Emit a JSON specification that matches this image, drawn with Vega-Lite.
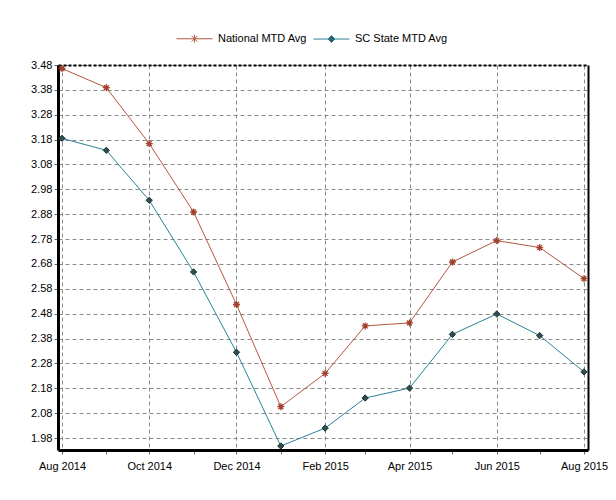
{
  "$schema": "https://vega.github.io/schema/vega-lite/v6.json",
  "autosize": {"type": "none"},
  "width": 530,
  "height": 385,
  "padding": {"left": 58, "top": 65, "right": 28, "bottom": 50},
  "background": "white",
  "config": {
    "view": {"stroke": null},
    "font": "Liberation Sans",
    "axis": {"labelFont": "Liberation Sans", "labelFontSize": 11, "labelColor": "#000000", "titleFont": "Liberation Sans"},
    "legend": {"labelFont": "Liberation Sans", "labelFontSize": 11, "labelColor": "#000000"}
  },
  "data": {
    "values": [
      {"month": "2014-08-01", "series": "National MTD Avg", "value": 3.466},
      {"month": "2014-09-01", "series": "National MTD Avg", "value": 3.389},
      {"month": "2014-10-01", "series": "National MTD Avg", "value": 3.164},
      {"month": "2014-11-01", "series": "National MTD Avg", "value": 2.889},
      {"month": "2014-12-01", "series": "National MTD Avg", "value": 2.517},
      {"month": "2015-01-01", "series": "National MTD Avg", "value": 2.106},
      {"month": "2015-02-01", "series": "National MTD Avg", "value": 2.240},
      {"month": "2015-03-01", "series": "National MTD Avg", "value": 2.431},
      {"month": "2015-04-01", "series": "National MTD Avg", "value": 2.443},
      {"month": "2015-05-01", "series": "National MTD Avg", "value": 2.688},
      {"month": "2015-06-01", "series": "National MTD Avg", "value": 2.774},
      {"month": "2015-07-01", "series": "National MTD Avg", "value": 2.746},
      {"month": "2015-08-01", "series": "National MTD Avg", "value": 2.621},
      {"month": "2014-08-01", "series": "SC State MTD Avg", "value": 3.185},
      {"month": "2014-09-01", "series": "SC State MTD Avg", "value": 3.137},
      {"month": "2014-10-01", "series": "SC State MTD Avg", "value": 2.936},
      {"month": "2014-11-01", "series": "SC State MTD Avg", "value": 2.648},
      {"month": "2014-12-01", "series": "SC State MTD Avg", "value": 2.325},
      {"month": "2015-01-01", "series": "SC State MTD Avg", "value": 1.948},
      {"month": "2015-02-01", "series": "SC State MTD Avg", "value": 2.020},
      {"month": "2015-03-01", "series": "SC State MTD Avg", "value": 2.141},
      {"month": "2015-04-01", "series": "SC State MTD Avg", "value": 2.181},
      {"month": "2015-05-01", "series": "SC State MTD Avg", "value": 2.397},
      {"month": "2015-06-01", "series": "SC State MTD Avg", "value": 2.479},
      {"month": "2015-07-01", "series": "SC State MTD Avg", "value": 2.392},
      {"month": "2015-08-01", "series": "SC State MTD Avg", "value": 2.246}
    ]
  },
  "layer": [
    {
      "mark": {"type": "line", "strokeWidth": 1},
      "encoding": {
        "x": {
          "field": "month", "type": "temporal",
          "scale": {"type": "utc", "domain": [
            {"year": 2014, "month": 7, "date": 29, "hours": 5, "utc": true},
            {"year": 2015, "month": 8, "date": 3, "hours": 19, "utc": true}
          ]},
          "axis": {
            "orient": "bottom", "title": null,
            "values": [
              {"year": 2014, "month": 8, "date": 1, "utc": true},
              {"year": 2014, "month": 9, "date": 1, "utc": true},
              {"year": 2014, "month": 10, "date": 1, "utc": true},
              {"year": 2014, "month": 11, "date": 1, "utc": true},
              {"year": 2014, "month": 12, "date": 1, "utc": true},
              {"year": 2015, "month": 1, "date": 1, "utc": true},
              {"year": 2015, "month": 2, "date": 1, "utc": true},
              {"year": 2015, "month": 3, "date": 1, "utc": true},
              {"year": 2015, "month": 4, "date": 1, "utc": true},
              {"year": 2015, "month": 5, "date": 1, "utc": true},
              {"year": 2015, "month": 6, "date": 1, "utc": true},
              {"year": 2015, "month": 7, "date": 1, "utc": true},
              {"year": 2015, "month": 8, "date": 1, "utc": true}
            ],
            "labelExpr": "utcmonth(datum.value) % 2 == 1 ? utcFormat(datum.value, '%b %Y') : ''",
            "labelFlush": false,
            "labelOverlap": false,
            "labelPadding": 6,
            "tickSize": 4,
            "tickColor": "#666666",
            "domainColor": "#000000",
            "domainWidth": 3,
            "grid": true,
            "gridColor": "#8a8a8a",
            "gridDash": [4, 3],
            "gridOpacity": {"condition": {"test": "utcmonth(datum.value) % 2 == 1", "value": 1}, "value": 0}
          }
        },
        "y": {
          "field": "value", "type": "quantitative",
          "scale": {"domain": [1.932, 3.48], "zero": false, "nice": false},
          "axis": {
            "orient": "left", "title": null,
            "values": [1.98, 2.08, 2.18, 2.28, 2.38, 2.48, 2.58, 2.68, 2.78, 2.88, 2.98, 3.08, 3.18, 3.28, 3.38, 3.48],
            "format": ".2f",
            "labelPadding": 2,
            "tickSize": 4,
            "tickColor": "#666666",
            "domainColor": "#000000",
            "domainWidth": 3,
            "grid": true,
            "gridColor": "#8a8a8a",
            "gridDash": [4, 3]
          }
        },
        "color": {
          "field": "series", "type": "nominal",
          "scale": {"domain": ["National MTD Avg", "SC State MTD Avg"], "range": ["#B4583F", "#2A8296"]},
          "legend": {
            "title": null,
            "orient": "none",
            "direction": "horizontal",
            "legendX": 118,
            "legendY": -45,
            "padding": 0,
            "labelOffset": 5,
            "columnPadding": 3,
            "symbolSize": 1296,
            "symbolStrokeWidth": 1,
            "encode": {
              "symbols": {
                "update": {
                  "shape": {"signal": "datum.value === 'National MTD Avg' ? 'M-1,0L1,0M0,-0.22L0,0.22M-0.16,-0.16L0.16,0.16M-0.16,0.16L0.16,-0.16' : 'M-1,0L1,0M0,-0.19L0.19,0L0,0.19L-0.19,0Z'"},
                  "fill": {"signal": "datum.value === 'National MTD Avg' ? 'transparent' : '#2F4F4F'"},
                  "size": {"value": 1296},
                  "strokeWidth": {"value": 1}
                }
              }
            }
          }
        }
      }
    },
    {
      "transform": [{"filter": "datum.series === 'National MTD Avg'"}],
      "mark": {"type": "point", "shape": "M-1,0L1,0M0,-1L0,1M-0.7,-0.7L0.7,0.7M-0.7,0.7L0.7,-0.7", "size": 49, "filled": false, "stroke": "#A3402B", "strokeWidth": 1.3, "opacity": 1},
      "encoding": {
        "x": {
          "field": "month", "type": "temporal",
          "axis": {"orient": "top", "title": null, "labels": false, "ticks": false, "grid": false, "domainColor": "#000000", "domainWidth": 2, "domainDash": [3, 2]}
        },
        "y": {"field": "value", "type": "quantitative", "axis": null}
      }
    },
    {
      "transform": [{"filter": "datum.series === 'SC State MTD Avg'"}],
      "mark": {"type": "point", "shape": "diamond", "size": 40, "filled": true, "fill": "#2F4F4F", "stroke": "#1F3535", "strokeWidth": 1, "opacity": 1},
      "encoding": {
        "x": {"field": "month", "type": "temporal", "axis": null},
        "y": {
          "field": "value", "type": "quantitative",
          "axis": {"orient": "right", "title": null, "labels": false, "ticks": false, "grid": false, "domainColor": "#000000", "domainWidth": 2}
        }
      }
    }
  ]
}
